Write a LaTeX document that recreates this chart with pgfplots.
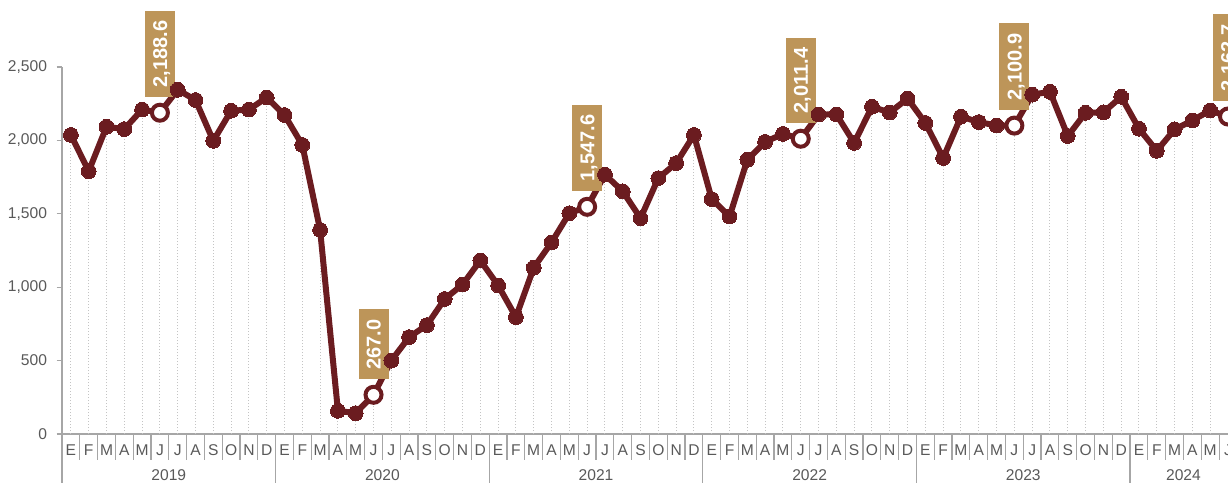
\documentclass[border=0pt]{standalone}
\usepackage{fontspec}
\setmainfont{Liberation Sans}
\usepackage{pgfplots}
\usepackage{pgfplotstable}
\pgfplotsset{compat=1.18}
\usetikzlibrary{calc}
\definecolor{maroon}{HTML}{6B1C20}
\definecolor{tan}{HTML}{BD9559}
\definecolor{axisgray}{HTML}{A6A6A6}
\definecolor{txtgray}{HTML}{595959}
\definecolor{dropgray}{HTML}{C4C4C4}

\pgfplotstableread{
x y
0 2037
1 1790
2 2093
3 2077
4 2210
5 2188.6
6 2345
7 2275
8 1997
9 2202
10 2210
11 2292
12 2173
13 1969
14 1390
15 158
16 142
17 267.0
18 500
19 660
20 742
21 920
22 1018
23 1182
24 1012
25 796
26 1133
27 1305
28 1504
29 1547.6
30 1767
31 1653
32 1470
33 1743
34 1845
35 2037
36 1600
37 1482
38 1868
39 1990
40 2044
41 2011.4
42 2176
43 2177
44 1983
45 2229
46 2190
47 2285
48 2119
49 1880
50 2162
51 2125
52 2101
53 2100.9
54 2312
55 2331
56 2030
57 2188
58 2191
59 2297
60 2080
61 1929
62 2075
63 2136
64 2204
65 2162.7
}\datatable

\pgfplotstableread{
x y
5 2188.6
17 267.0
29 1547.6
41 2011.4
53 2100.9
65 2162.7
}\junetable

\tikzset{lbl/.style={fill=tan, text=white, font=\bfseries\fontsize{10}{11}\selectfont,
  inner xsep=5pt, inner ysep=3.9pt, text height=7.2pt, text depth=0pt,
  yshift=7.5pt, rotate=90, anchor=west},
  yrlbl/.style={font=\fontsize{7.8}{9}\selectfont, text=txtgray, anchor=center, yshift=-20.8pt}}

\begin{document}
\begin{tikzpicture}
\begin{axis}[
  width=583pt, height=183.5pt, scale only axis,
  xmin=-0.5, xmax=65, ymin=0, ymax=2500,
  clip=false,
  axis x line*=bottom, axis y line*=left,
  axis line style={draw=axisgray, line width=0.8pt, -},
  xtick={0,...,65},
  xticklabels={E,F,M,A,M,J,J,A,S,O,N,D,E,F,M,A,M,J,J,A,S,O,N,D,E,F,M,A,M,J,J,A,S,O,N,D,E,F,M,A,M,J,J,A,S,O,N,D,E,F,M,A,M,J,J,A,S,O,N,D,E,F,M,A,M,J},
  xtick style={draw=none},
  xticklabel style={anchor=center, yshift=-8.3pt, font=\fontsize{7.8}{9}\selectfont, text=txtgray},
  ytick={0,500,1000,1500,2000,2500},
  major tick length=2.7pt,
  ytick style={draw=axisgray, line width=0.6pt, xshift=-2.7pt},
  yticklabel style={font=\fontsize{7.8}{9}\selectfont, text=txtgray, xshift=-4pt},
  /pgf/number format/.cd, 1000 sep={,}, assume math mode=true,
]
\coordinate (O) at (axis cs:-0.5,0);
% drop lines
\addplot[ycomb, draw=dropgray, densely dotted, line width=0.5pt, forget plot] table[x=x,y=y] {\datatable};
% main line
\addplot[draw=maroon, line width=3pt, mark=*, mark size=3.7pt, mark options={fill=maroon, draw=maroon, line width=0pt}] table[x=x,y=y] {\datatable};
% June markers
\addplot[only marks, mark=*, mark size=4pt, mark options={fill=white, draw=maroon, line width=2pt}] table[x=x,y=y] {\junetable};
% labels
\node[lbl] at (axis cs:5,2188.6) {2,188.6};
\node[lbl] at (axis cs:17,267.0) {267.0};
\node[lbl] at (axis cs:29,1547.6) {1,547.6};
\node[lbl] at (axis cs:41,2011.4) {2,011.4};
\node[lbl] at (axis cs:53,2100.9) {2,100.9};
\node[lbl] at (axis cs:65,2162.7) {2,162.7};
% month separators
\pgfplotsinvokeforeach{0,...,64}{
  \draw[axisgray, line width=0.6pt] ($(axis cs:#1,0)+(4.45pt,0pt)$) -- ++(0pt,-13pt);
}
% year separators
\pgfplotsinvokeforeach{11,23,35,47,59}{
  \draw[axisgray, line width=0.6pt] ($(axis cs:#1,0)+(4.45pt,0pt)$) -- ++(0pt,-24.5pt);
}
\draw[axisgray, line width=0.8pt] (axis cs:-0.5,0) -- ++(0pt,-24.5pt);
% year labels
\node[yrlbl] at (axis cs:5.5,0) {2019};
\node[yrlbl] at (axis cs:17.5,0) {2020};
\node[yrlbl] at (axis cs:29.5,0) {2021};
\node[yrlbl] at (axis cs:41.5,0) {2022};
\node[yrlbl] at (axis cs:53.5,0) {2023};
\node[yrlbl] at (axis cs:62.5,0) {2024};
\end{axis}
\pgfresetboundingbox
\path[use as bounding box] ($(O)+(-31pt,-24.5pt)$) rectangle ($(O)+(583pt,217pt)$);
\end{tikzpicture}
\end{document}
